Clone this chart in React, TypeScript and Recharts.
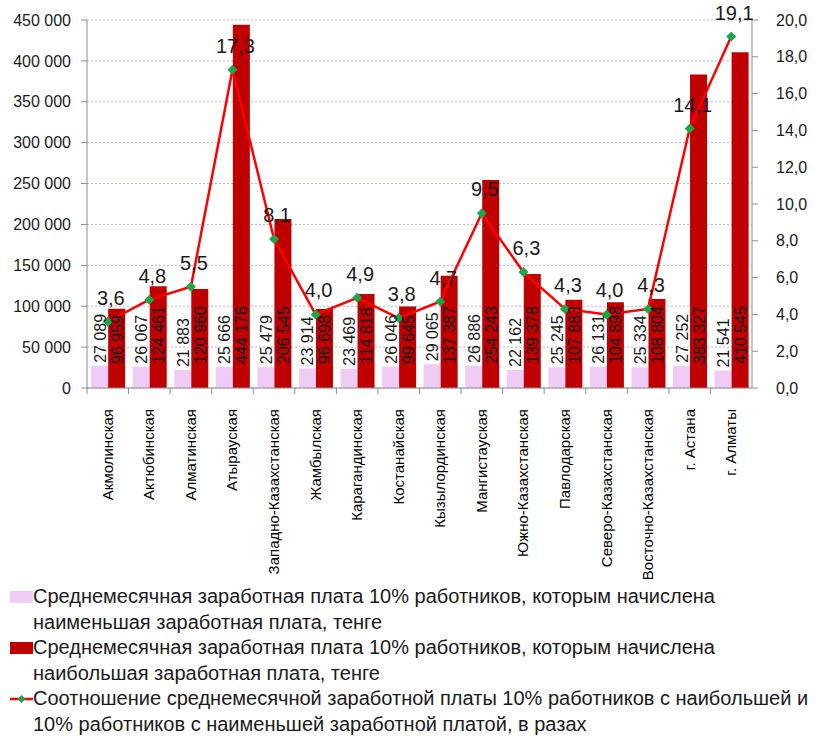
import React from 'react';
import {
  ComposedChart,
  Bar,
  Line,
  XAxis,
  YAxis,
  CartesianGrid,
  LabelList,
} from 'recharts';

const regions = [
  'Акмолинская',
  'Актюбинская',
  'Алматинская',
  'Атырауская',
  'Западно-Казахстанская',
  'Жамбылская',
  'Карагандинская',
  'Костанайская',
  'Кызылординская',
  'Мангистауская',
  'Южно-Казахстанская',
  'Павлодарская',
  'Северо-Казахстанская',
  'Восточно-Казахстанская',
  'г. Астана',
  'г. Алматы',
];

const lowestPay = [27089, 26067, 21883, 25666, 25479, 23914, 23469, 26046, 29065, 26886, 22162, 25245, 26131, 25334, 27252, 21541];
const highestPay = [96959, 124461, 120960, 444176, 206545, 96698, 114818, 99645, 137387, 254243, 139378, 107883, 104898, 108804, 383327, 410545];
const ratio = [3.6, 4.8, 5.5, 17.3, 8.1, 4.0, 4.9, 3.8, 4.7, 9.5, 6.3, 4.3, 4.0, 4.3, 14.1, 19.1];

const leftTicks = [0, 50000, 100000, 150000, 200000, 250000, 300000, 350000, 400000, 450000];
const rightTicks = [0, 2, 4, 6, 8, 10, 12, 14, 16, 18, 20];

const legendLow = ['Среднемесячная заработная плата 10% работников, которым начислена', 'наименьшая заработная плата, тенге'];
const legendHigh = ['Среднемесячная заработная плата 10% работников, которым начислена', 'наибольшая заработная плата, тенге'];
const legendRatio = ['Соотношение среднемесячной заработной платы 10% работников с наибольшей и', '10% работников с наименьшей заработной платой, в разах'];

const data = regions.map((name, i) => ({
  name,
  low: lowestPay[i],
  high: highestPay[i],
  ratio: ratio[i],
}));

const FONT = '"Liberation Sans Narrow", "Liberation Sans", sans-serif';
const W = 817;
const H = 590;
const LEFT = 87;
const RIGHT = 65;
const BAND = (W - LEFT - RIGHT) / regions.length;

const fmtThousands = (v: number) => String(v).replace(/\B(?=(\d{3})+(?!\d))/g, ' ');
const fmtComma = (v: number) => v.toFixed(1).replace('.', ',');

function BarValue(props: any) {
  const { x, y, width, height, value, base } = props;
  const cx = x + width / 2 + 6;
  const bottom = y + height;
  const ty = base ? bottom - 24 : y - 3;
  return (
    <text
      x={cx}
      y={ty}
      transform={`rotate(-90 ${cx} ${ty})`}
      textAnchor="start"
      fontSize={16}
      fontFamily={FONT}
      fill="#1a1a1a"
    >
      {fmtThousands(value)}
    </text>
  );
}

function RatioValue(props: any) {
  const { x, y, value } = props;
  return (
    <text x={x + 3} y={y - 17} textAnchor="middle" fontSize={20} fontFamily={FONT} fill="#1a1a1a">
      {fmtComma(value)}
    </text>
  );
}

function Diamond(props: any) {
  const { cx, cy } = props;
  if (cx == null || cy == null) return null;
  return <path d={`M${cx},${cy - 5} L${cx + 5},${cy} L${cx},${cy + 5} L${cx - 5},${cy} Z`} fill="#1aa84a" />;
}

function CategoryTick(props: any) {
  const { x, y, payload } = props;
  const lx = x - BAND / 2;
  const tx = x + 5;
  const ty = y + 13;
  return (
    <g>
      <line x1={lx} y1={y - 8} x2={lx} y2={y - 2} stroke="#8c8c8c" />
      <text
        x={tx}
        y={ty}
        transform={`rotate(-90 ${tx} ${ty})`}
        textAnchor="end"
        fontSize={15}
        fontFamily={FONT}
        fill="#000"
      >
        {payload.value}
      </text>
    </g>
  );
}

function LegendRow({ marker, lines }: { marker: React.ReactNode; lines: string[] }) {
  return (
    <div style={{ display: 'flex', alignItems: 'flex-start' }}>
      <div style={{ width: 23, height: 25, display: 'flex', alignItems: 'center', flexShrink: 0 }}>{marker}</div>
      <div style={{ fontSize: 20, lineHeight: '25.5px', color: '#1a1a1a', whiteSpace: 'nowrap' }}>
        {lines.map((l) => (
          <div key={l}>{l}</div>
        ))}
      </div>
    </div>
  );
}

export default function App() {
  return (
    <div style={{ position: 'absolute', left: 0, top: 0, width: W, height: 742, background: '#fff', fontFamily: FONT, overflow: 'hidden' }}>
      <ComposedChart
        width={W}
        height={H}
        data={data}
        margin={{ top: 20, right: 0, bottom: 0, left: 0 }}
        barCategoryGap="10%"
        barGap={0}
      >
        <CartesianGrid yAxisId="pay" vertical={false} stroke="#a9bcd4" strokeDasharray="2 2" />
        <XAxis
          dataKey="name"
          interval={0}
          height={H - 388}
          tick={<CategoryTick />}
          tickLine={false}
          axisLine={{ stroke: '#8c8c8c' }}
        />
        <YAxis
          yAxisId="pay"
          orientation="left"
          width={LEFT}
          domain={[0, 450000]}
          ticks={leftTicks}
          interval={0}
          tickFormatter={fmtThousands}
          tick={{ fontSize: 16, fill: '#1a1a1a', fontFamily: FONT }}
          tickSize={6}
          tickMargin={10}
          tickLine={{ stroke: '#8c8c8c' }}
          axisLine={{ stroke: '#8c8c8c' }}
        />
        <YAxis
          yAxisId="ratio"
          orientation="right"
          width={RIGHT}
          domain={[0, 20]}
          ticks={rightTicks}
          interval={0}
          tickFormatter={fmtComma}
          tick={{ fontSize: 16, fill: '#1a1a1a', fontFamily: FONT }}
          tickSize={6}
          tickMargin={18}
          tickLine={{ stroke: '#8c8c8c' }}
          axisLine={{ stroke: '#8c8c8c' }}
        />
        <Bar yAxisId="pay" dataKey="low" fill="#f0cbf6" isAnimationActive={false}>
          <LabelList dataKey="low" content={<BarValue />} />
        </Bar>
        <Bar yAxisId="pay" dataKey="high" fill="#c00000" isAnimationActive={false}>
          <LabelList dataKey="high" content={<BarValue base />} />
        </Bar>
        <Line
          yAxisId="ratio"
          dataKey="ratio"
          stroke="#ff0000"
          strokeWidth={2.5}
          dot={<Diamond />}
          activeDot={false}
          isAnimationActive={false}
        >
          <LabelList dataKey="ratio" content={<RatioValue />} />
        </Line>
      </ComposedChart>
      <div style={{ position: 'absolute', left: 0, top: 584, width: W, height: 160, paddingLeft: 10, background: '#fff' }}>
        <LegendRow marker={<div style={{ width: 23, height: 12, background: '#f0cbf6' }} />} lines={legendLow} />
        <LegendRow marker={<div style={{ width: 23, height: 12, background: '#c00000' }} />} lines={legendHigh} />
        <LegendRow
          marker={
            <svg width={23} height={12}>
              <line x1={0} y1={6} x2={23} y2={6} stroke="#ff0000" strokeWidth={2.5} />
              <path d="M11.5,2 L15.5,6 L11.5,10 L7.5,6 Z" fill="#1aa84a" />
            </svg>
          }
          lines={legendRatio}
        />
      </div>
    </div>
  );
}
